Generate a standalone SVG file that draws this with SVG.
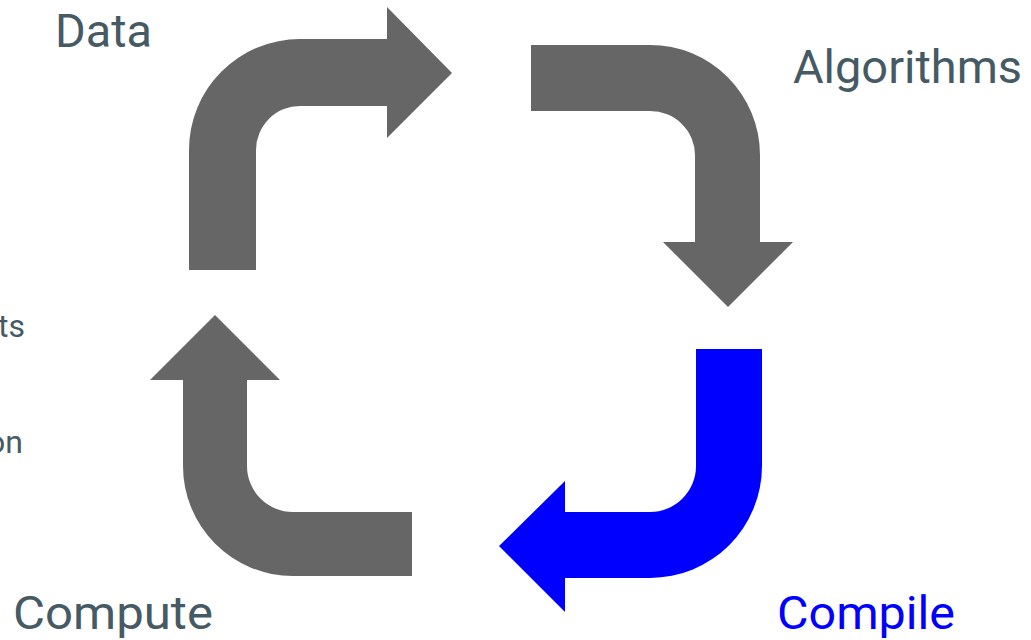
<svg xmlns="http://www.w3.org/2000/svg" width="1031" height="640" viewBox="0 0 1031 640">
<style>
.lbl{font-family:"Roboto","Open Sans","Liberation Sans",sans-serif;font-size:46px;fill:#455a64}
.small{font-family:"Roboto","Open Sans","Liberation Sans",sans-serif;font-size:32px;fill:#455a64}
.arr{fill:#666666}
.hl{fill:#0000ff}
</style>
<rect width="1031" height="640" fill="#ffffff"/>
<g id="connectors">
<path id="arrow-data-algorithms" class="arr" d="M189,270 L189,150 A111,111 0 0 1 300,39 L387,39 L387,7 L452,73 L387,138 L387,106 L300,106 A44,44 0 0 0 256,150 L256,270 Z"/>
<path id="arrow-algorithms-compile" class="arr" d="M531,45 L650,45 A110,110 0 0 1 760,155 L760,242 L793,242 L728,307 L663,242 L695,242 L695,155 A45,44 0 0 0 650,111 L531,111 Z"/>
<path id="arrow-compile-compute" class="hl" d="M696,349 L762,349 L762,466 A112,112 0 0 1 650,578 L565,578 L565,612 L499,546 L565,481 L565,512 L650,512 A46,46 0 0 0 696,466 Z"/>
<path id="arrow-compute-data" class="arr" d="M183,380 L150,380 L215,315 L280,380 L247,380 L247,466 A46,46 0 0 0 293,512 L412,512 L412,576 L293,576 A110,110 0 0 1 183,466 Z"/>
</g>
<g id="node-data"><text class="lbl" x="55" y="47" textLength="97" lengthAdjust="spacingAndGlyphs">Data</text></g>
<g id="node-algorithms"><text class="lbl" x="793" y="83" textLength="229" lengthAdjust="spacingAndGlyphs">Algorithms</text></g>
<g id="node-compute"><text class="lbl" x="13" y="629" textLength="200" lengthAdjust="spacingAndGlyphs">Compute</text></g>
<g id="node-compile"><text class="lbl" x="777" y="629" textLength="178" lengthAdjust="spacingAndGlyphs" style="fill:#0000ff">Compile</text></g>
<g id="side-text">
<text class="small" x="25" y="337" text-anchor="end">ts</text>
<text class="small" x="23" y="453" text-anchor="end">on</text>
</g>
</svg>
